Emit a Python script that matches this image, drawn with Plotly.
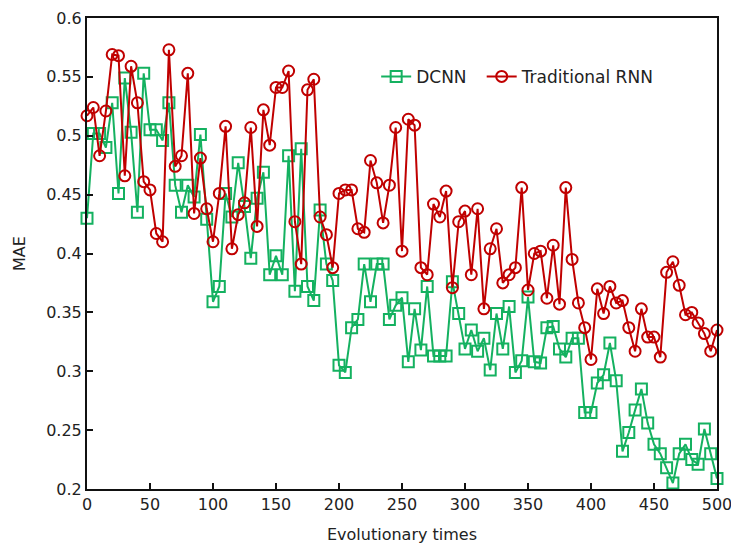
import plotly.graph_objects as go

evolutionary_times = [0, 5, 10, 15, 20, 25, 30, 35, 40, 45, 50, 55, 60, 65, 70, 75, 80, 85, 90, 95,
                      100, 105, 110, 115, 120, 125, 130, 135, 140, 145, 150, 155, 160, 165, 170, 175, 180, 185, 190, 195,
                      200, 205, 210, 215, 220, 225, 230, 235, 240, 245, 250, 255, 260, 265, 270, 275, 280, 285, 290, 295,
                      300, 305, 310, 315, 320, 325, 330, 335, 340, 345, 350, 355, 360, 365, 370, 375, 380, 385, 390, 395,
                      400, 405, 410, 415, 420, 425, 430, 435, 440, 445, 450, 455, 460, 465, 470, 475, 480, 485, 490, 495,
                      500]

dcnn_mae = [0.430, 0.502, 0.502, 0.490, 0.528, 0.451, 0.549, 0.503, 0.435, 0.553,
            0.505, 0.505, 0.496, 0.528, 0.458, 0.435, 0.458, 0.448, 0.501, 0.429,
            0.359, 0.372, 0.451, 0.431, 0.477, 0.440, 0.396, 0.447, 0.469, 0.382,
            0.398, 0.382, 0.483, 0.368, 0.489, 0.372, 0.360, 0.437, 0.391, 0.377,
            0.305, 0.299, 0.337, 0.344, 0.391, 0.359, 0.391, 0.391, 0.344, 0.356,
            0.3625, 0.308, 0.353, 0.318, 0.372, 0.313, 0.313, 0.313, 0.376, 0.349,
            0.319, 0.335, 0.317, 0.328, 0.301, 0.349, 0.319, 0.355, 0.299, 0.309,
            0.363, 0.308, 0.307, 0.337, 0.338, 0.319, 0.312, 0.328, 0.328, 0.265,
            0.265, 0.290, 0.297, 0.324, 0.292, 0.232, 0.248, 0.267, 0.285, 0.256,
            0.238, 0.230, 0.218, 0.205, 0.230, 0.238, 0.225, 0.221, 0.251, 0.230,
            0.209]

rnn_mae = [0.517, 0.524, 0.483, 0.521, 0.569, 0.568, 0.466, 0.559, 0.528, 0.461,
           0.454, 0.417, 0.410, 0.573, 0.474, 0.483, 0.553, 0.434, 0.481, 0.438,
           0.410, 0.451, 0.508, 0.404, 0.433, 0.443, 0.507, 0.423, 0.522, 0.492,
           0.541, 0.541, 0.555, 0.427, 0.391, 0.539, 0.548, 0.431, 0.416, 0.388,
           0.451, 0.454, 0.454, 0.421, 0.418, 0.479, 0.460, 0.426, 0.458, 0.507,
           0.402, 0.514, 0.509, 0.388, 0.382, 0.442, 0.431, 0.453, 0.371, 0.427,
           0.436, 0.382, 0.438, 0.353, 0.404, 0.421, 0.375, 0.382, 0.388, 0.456,
           0.369, 0.400, 0.402, 0.362, 0.407, 0.357, 0.456, 0.395, 0.358, 0.337,
           0.310, 0.370, 0.349, 0.372, 0.358, 0.360, 0.337, 0.317, 0.353, 0.329,
           0.329, 0.312, 0.384, 0.393, 0.373, 0.348, 0.350, 0.341, 0.332, 0.317,
           0.335]

x_ticks = [0, 50, 100, 150, 200, 250, 300, 350, 400, 450, 500]
y_ticks = [0.2, 0.25, 0.3, 0.35, 0.4, 0.45, 0.5, 0.55, 0.6]
y_tick_labels = ["0.2", "0.25", "0.3", "0.35", "0.4", "0.45", "0.5", "0.55", "0.6"]

GREEN = "#14B160"
RED = "#C00000"
FONT = "DejaVu Sans"

fig = go.Figure()
fig.add_trace(go.Scatter(
    x=evolutionary_times, y=dcnn_mae, name="DCNN", mode="lines+markers",
    line=dict(color=GREEN, width=2),
    marker=dict(symbol="square-open", size=11, color=GREEN, line=dict(width=2, color=GREEN)),
    cliponaxis=False, legend="legend",
))
fig.add_trace(go.Scatter(
    x=evolutionary_times, y=rnn_mae, name="Traditional RNN", mode="lines+markers",
    line=dict(color=RED, width=2),
    marker=dict(symbol="circle-open", size=11, color=RED, line=dict(width=2, color=RED)),
    cliponaxis=False, legend="legend2",
))

axis_common = dict(
    showline=True, linecolor="#111", linewidth=2, mirror=True,
    ticks="inside", ticklen=6, tickwidth=2, tickcolor="#111",
    showgrid=False, zeroline=False,
    tickfont=dict(family=FONT, size=16, color="#222"),
    ticklabeloverflow="allow",
)

legend_common = dict(
    orientation="h", xanchor="left", y=0.875, yanchor="middle",
    bgcolor="rgba(0,0,0,0)", font=dict(family=FONT, size=17, color="#222"),
    itemwidth=30,
)

fig.update_layout(
    width=731, height=552,
    margin=dict(l=87, r=14, t=18, b=63, autoexpand=False),
    paper_bgcolor="white", plot_bgcolor="white",
    font=dict(family=FONT, size=16, color="#222"),
    showlegend=True,
    legend=dict(x=0.459, **legend_common),
    legend2=dict(x=0.6265, **legend_common),
    xaxis=dict(
        range=[0, 500], tickvals=x_ticks,
        title=dict(text="Evolutionary times", font=dict(family=FONT, size=16, color="#222"), standoff=16),
        **axis_common,
    ),
    yaxis=dict(
        range=[0.2, 0.6], tickvals=y_ticks, ticktext=y_tick_labels,
        title=dict(text="MAE", font=dict(family=FONT, size=16, color="#222"), standoff=17),
        **axis_common,
    ),
)

fig.write_html("out.html")
